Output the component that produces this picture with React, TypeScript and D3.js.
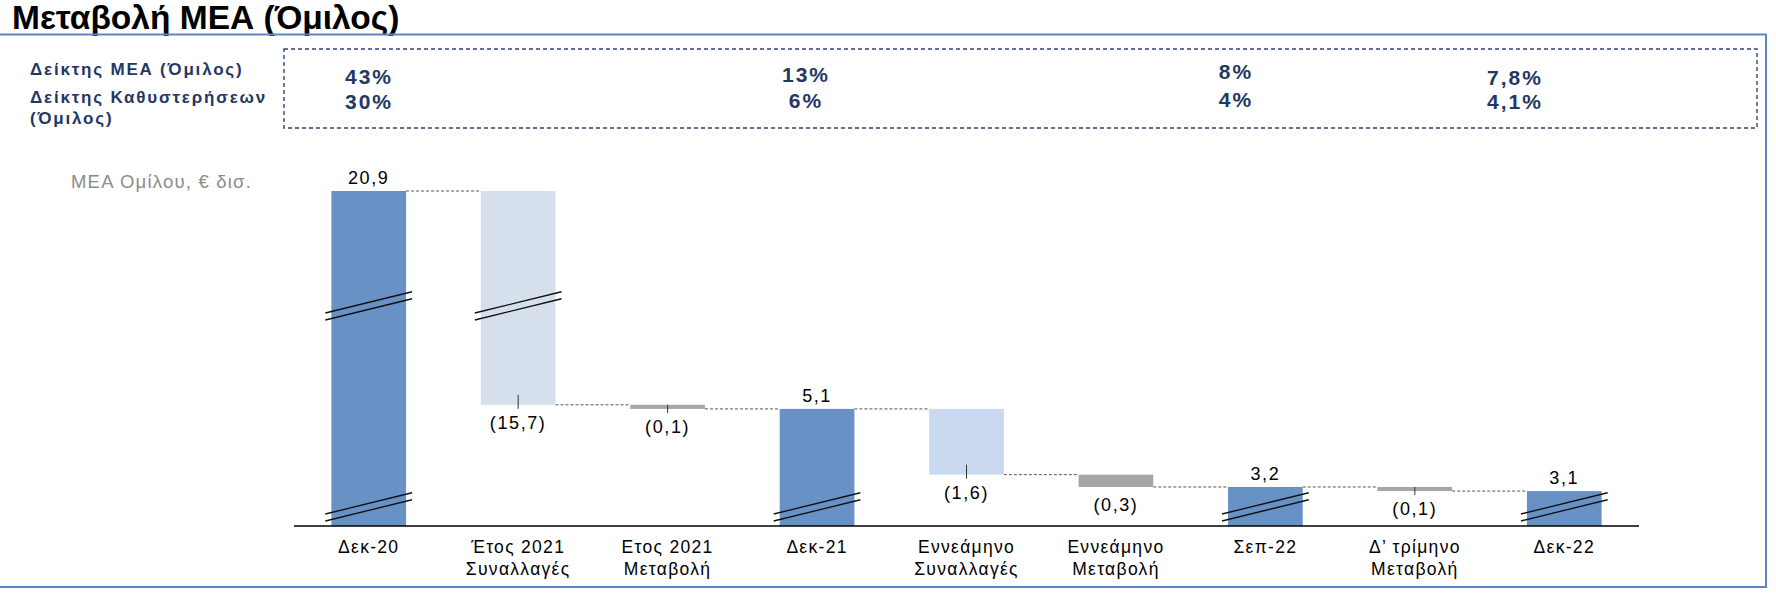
import * as d3 from 'd3';

// waterfall data (€ bn)
const categories = [
  ['Δεκ-20'],
  ['Έτος 2021', 'Συναλλαγές'],
  ['Ετος 2021', 'Μεταβολή'],
  ['Δεκ-21'],
  ['Εννεάμηνο', 'Συναλλαγές'],
  ['Εννεάμηνο', 'Μεταβολή'],
  ['Σεπ-22'],
  ['Δ’ τρίμηνο', 'Μεταβολή'],
  ['Δεκ-22'],
];
const values = [20.9, -15.7, -0.1, 5.1, -1.6, -0.3, 3.2, -0.1, 3.1];
const kinds = ['total', 'deal21', 'change', 'total', 'deal9m', 'change', 'total', 'change', 'total'];
const valueLabels = ['20,9', '(15,7)', '(0,1)', '5,1', '(1,6)', '(0,3)', '3,2', '(0,1)', '3,1'];

// indicator box
const indicatorNames = [['Δείκτης ΜΕΑ (Όμιλος)'], ['Δείκτης Καθυστερήσεων', '(Όμιλος)']];
const npeRatio = ['43%', '13%', '8%', '7,8%'];
const arrearsRatio = ['30%', '6%', '4%', '4,1%'];

const W = 1776;
const H = 598;
const axisY = 526;
const navy = '#1f3864';
const frame = '#5f86c4';
const font = "'Liberation Sans', Arial, Helvetica, sans-serif";

const colors: Record<string, string> = {
  total: '#6892c5',
  deal21: '#d5e0ec',
  deal9m: '#c9daf0',
  change: '#a6a6a6',
};

// per-column layout of indicator values
const indX = [369, 806, 1236, 1515];
const indY1 = [84, 82, 79, 85];
const indY2 = [109, 108, 107, 109];

// waterfall running values
const bars = (() => {
  let run = 0;
  return values.map((v, i) => {
    let start: number, end: number;
    if (kinds[i] === 'total') {
      start = 0;
      end = v;
      run = v;
    } else {
      start = run;
      end = run + v;
      run = end;
    }
    return { i, start, end, kind: kinds[i], label: valueLabels[i], cat: categories[i] };
  });
})();

const x = d3
  .scaleBand<number>()
  .domain(d3.range(categories.length))
  .range([294, 1639])
  .paddingInner(0.5)
  .paddingOuter(0.25);

// broken axis: lower part linear, upper part compressed
const y = d3.scaleLinear().domain([2.25, 5.2, 20.9]).range([axisY, 404.8, 191]).clamp(true);

// where the double break marks sit (bar index -> centre y of the left end)
const topBreaks = [0, 1];
const bottomBreaks = [0, 3, 6, 8];

function BreakMark({ i, yLeft }: { i: number; yLeft: number }) {
  const x0 = (x(i) as number) - 6;
  const x1 = (x(i) as number) + x.bandwidth() + 6;
  const rise = (x1 - x0) * 0.245;
  return (
    <g stroke="#111" strokeWidth={1.3}>
      <line x1={x0} y1={yLeft} x2={x1} y2={yLeft - rise} />
      <line x1={x0} y1={yLeft + 7} x2={x1} y2={yLeft + 7 - rise} />
    </g>
  );
}

export default function App() {
  const bw = x.bandwidth();
  return (
    <svg width={W} height={H} style={{ position: 'absolute', left: 0, top: 0, background: '#fff' }} fontFamily={font}>
      {/* title + frame */}
      <text x={12} y={29} fontSize={33.5} fontWeight="bold" fill="#000">
        Μεταβολή ΜΕΑ (Όμιλος)
      </text>
      <path d={`M0,34.5 H1766 V587 H0`} fill="none" stroke={frame} strokeWidth={2} />

      {/* indicator box */}
      <rect x={284} y={49} width={1473} height={79} fill="none" stroke="#2f4670" strokeWidth={1.4} strokeDasharray="4,3" />
      <g fontWeight="bold" fill={navy} fontSize={17} letterSpacing={1.8}>
        <text x={30} y={75}>{indicatorNames[0][0]}</text>
        <text x={30} y={103}>{indicatorNames[1][0]}</text>
        <text x={30} y={124}>{indicatorNames[1][1]}</text>
      </g>
      <g fontWeight="bold" fill={navy} fontSize={21} letterSpacing={2} textAnchor="middle">
        {npeRatio.map((t, k) => (
          <text key={'a' + k} x={indX[k]} y={indY1[k]}>{t}</text>
        ))}
        {arrearsRatio.map((t, k) => (
          <text key={'b' + k} x={indX[k]} y={indY2[k]}>{t}</text>
        ))}
      </g>

      <text x={71} y={188} fontSize={18.5} fill="#8c8c8c" letterSpacing={1.2}>
        ΜΕΑ Ομίλου, € δισ.
      </text>

      {/* connectors */}
      <g stroke="#555" strokeWidth={1} strokeDasharray="3,2">
        {bars.slice(0, -1).map((b, k) => (
          <line key={k} x1={(x(k) as number) + bw} x2={x(k + 1) as number} y1={y(b.end)} y2={y(b.end)} />
        ))}
      </g>

      {/* bars */}
      {bars.map((b) => (
        <rect
          key={b.i}
          x={x(b.i)}
          width={bw}
          y={Math.min(y(b.start), y(b.end))}
          height={Math.max(1, Math.abs(y(b.start) - y(b.end)))}
          fill={colors[b.kind]}
        />
      ))}

      {/* leader ticks for decreases */}
      <g stroke="#333" strokeWidth={1}>
        {bars
          .filter((b) => b.kind !== 'total' && b.i !== 5)
          .map((b) => {
            const cx = (x(b.i) as number) + bw / 2;
            const yb = y(b.end);
            const h = Math.abs(y(b.start) - yb);
            return <line key={b.i} x1={cx} x2={cx} y1={yb - Math.min(10, h)} y2={yb + 4} />;
          })}
      </g>

      {/* break marks */}
      {topBreaks.map((i) => (
        <BreakMark key={'t' + i} i={i} yLeft={313} />
      ))}
      {bottomBreaks.map((i) => (
        <BreakMark key={'b' + i} i={i} yLeft={514} />
      ))}

      {/* axis */}
      <line x1={294} x2={1639} y1={axisY} y2={axisY} stroke="#000" strokeWidth={1.5} />

      {/* value labels */}
      <g fontSize={18} letterSpacing={1.6} textAnchor="middle" fill="#000">
        {bars.map((b) => {
          const cx = (x(b.i) as number) + bw / 2;
          const ty = b.kind === 'total' ? y(b.end) - 7 : y(b.end) + 24;
          return (
            <text key={b.i} x={cx} y={ty}>
              {b.label}
            </text>
          );
        })}
      </g>

      {/* category labels */}
      <g fontSize={17.5} letterSpacing={1.3} textAnchor="middle" fill="#000">
        {bars.map((b) => (
          <text key={b.i} x={(x(b.i) as number) + bw / 2} y={553}>
            {b.cat.map((line, j) => (
              <tspan key={j} x={(x(b.i) as number) + bw / 2} y={553 + j * 22}>
                {line}
              </tspan>
            ))}
          </text>
        ))}
      </g>
    </svg>
  );
}
